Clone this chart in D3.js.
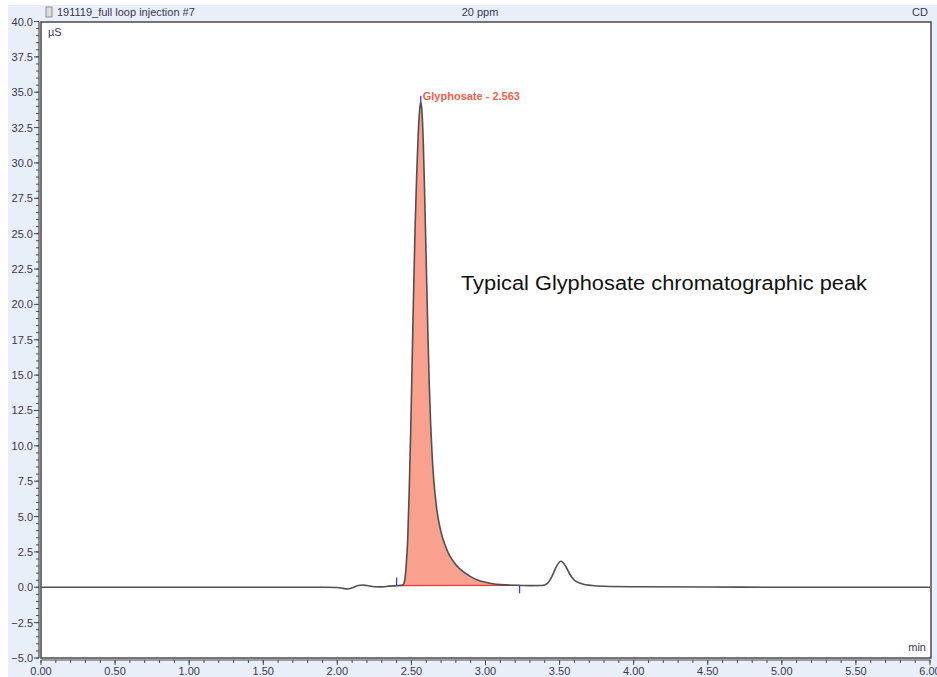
<!DOCTYPE html>
<html>
<head>
<meta charset="utf-8">
<script src="https://cdn.jsdelivr.net/npm/d3@7"></script>
<style>
  body { margin: 0; background: #fff; }
  text { font-family: "Liberation Sans", Arial, sans-serif; }
</style>
</head>
<body>
<div id="chart"></div>
<script>
// chromatogram trace (time in min, conductivity in µS)
const timeMin = [0.00, 0.50, 1.00, 1.50, 1.90, 2.00, 2.04, 2.07, 2.10, 2.14, 2.17, 2.20, 2.25, 2.30, 2.35, 2.40,
  2.44, 2.455, 2.465, 2.475, 2.485, 2.495, 2.505, 2.515, 2.525, 2.535, 2.545, 2.555, 2.563, 2.57, 2.58, 2.59,
  2.60, 2.61, 2.62, 2.63, 2.64, 2.65, 2.67, 2.70, 2.73, 2.76, 2.80, 2.85, 2.90, 2.95, 3.00, 3.05, 3.10, 3.20, 3.30,
  3.38, 3.42, 3.45, 3.48, 3.51, 3.54, 3.57, 3.60, 3.65, 3.72, 3.80, 4.00, 4.50, 5.00, 6.00];
const signalUS = [0.0, 0.0, 0.0, 0.0, 0.0, -0.02, -0.08, -0.12, -0.04, 0.12, 0.16, 0.12, 0.04, 0.03, 0.08, 0.12,
  0.15, 0.5, 1.6, 3.4, 6.8, 11, 16, 21, 25.5, 29, 31.8, 33.7, 34.3, 33.8, 31.5, 27.5,
  23, 18.5, 14.5, 11.5, 9.3, 7.7, 5.6, 3.9, 2.9, 2.2, 1.6, 1.1, 0.75, 0.5, 0.35, 0.25, 0.19, 0.14, 0.12,
  0.13, 0.3, 0.8, 1.5, 1.84, 1.5, 0.9, 0.5, 0.25, 0.12, 0.07, 0.04, 0.02, 0.0, 0.0];

// integrated peak
const peakName = "Glyphosate";
const peakTime = 2.563;
const peakStart = 2.40;
const peakEnd = 3.23;

// axes
const xTicks = [0, 0.5, 1, 1.5, 2, 2.5, 3, 3.5, 4, 4.5, 5, 5.5, 6];
const yTicks = [-5, -2.5, 0, 2.5, 5, 7.5, 10, 12.5, 15, 17.5, 20, 22.5, 25, 27.5, 30, 32.5, 35, 37.5, 40];

const width = 937;
const height = 677;

const svg = d3.select("#chart")
  .append("svg")
  .attr("width", width)
  .attr("height", height);

const x = d3.scaleLinear().domain([0, 6]).range([41, 930]);
const y = d3.scaleLinear().domain([-5, 40]).range([658, 21.5]);

// panel background
svg.append("rect")
  .attr("x", 8).attr("y", 5)
  .attr("width", width - 8).attr("height", height - 5)
  .attr("fill", "#e9eff9");

// plot area
svg.append("rect")
  .attr("x", 41).attr("y", 22)
  .attr("width", 890).attr("height", 636)
  .attr("fill", "#fff")
  .attr("stroke", "#4a4a4a")
  .attr("stroke-width", 1.5);

// header texts
const txtColor = "#3b3655";
svg.append("rect").attr("x", 46).attr("y", 7).attr("width", 6).attr("height", 10)
  .attr("fill", "#ddd").attr("stroke", "#777").attr("stroke-width", 0.8);
svg.append("text").attr("x", 57).attr("y", 16).attr("font-size", 11).attr("fill", txtColor)
  .text("191119_full loop injection #7");
svg.append("text").attr("x", 480).attr("y", 16).attr("font-size", 11).attr("fill", txtColor)
  .attr("text-anchor", "middle").text("20 ppm");
svg.append("text").attr("x", 928).attr("y", 16).attr("font-size", 11).attr("fill", txtColor)
  .attr("text-anchor", "end").text("CD");
svg.append("text").attr("x", 48).attr("y", 36).attr("font-size", 11).attr("fill", txtColor)
  .text("µS");
svg.append("text").attr("x", 926).attr("y", 651).attr("font-size", 11).attr("fill", txtColor)
  .attr("text-anchor", "end").text("min");

// y axis
const yMinor = d3.range(-5, 40.01, 0.5);
const yAxisG = svg.append("g").attr("transform", "translate(39,0)");
yAxisG.append("line").attr("y1", y(-5)).attr("y2", y(40)).attr("stroke", "#4a4a4a").attr("stroke-width", 1.2);
yAxisG.selectAll(".ymin").data(yMinor).join("line")
  .attr("x1", -3).attr("x2", 0)
  .attr("y1", d => y(d)).attr("y2", d => y(d))
  .attr("stroke", "#4a4a4a");
yAxisG.selectAll(".ymaj").data(yTicks).join("line")
  .attr("x1", -5).attr("x2", 0)
  .attr("y1", d => y(d)).attr("y2", d => y(d))
  .attr("stroke", "#4a4a4a");
yAxisG.selectAll("text").data(yTicks).join("text")
  .attr("x", -6).attr("y", d => y(d) + 4)
  .attr("text-anchor", "end").attr("font-size", 11).attr("fill", txtColor)
  .text(d3.format(".1f"));

// x axis
const xMinor = d3.range(0, 6.001, 0.1);
const xAxisG = svg.append("g").attr("transform", "translate(0,660)");
xAxisG.append("line").attr("x1", x(0)).attr("x2", x(6)).attr("stroke", "#4a4a4a").attr("stroke-width", 1.2);
xAxisG.selectAll(".xmin").data(xMinor).join("line")
  .attr("x1", d => x(d)).attr("x2", d => x(d))
  .attr("y1", 0).attr("y2", 3)
  .attr("stroke", "#4a4a4a");
xAxisG.selectAll(".xmaj").data(xTicks).join("line")
  .attr("x1", d => x(d)).attr("x2", d => x(d))
  .attr("y1", 0).attr("y2", 5)
  .attr("stroke", "#4a4a4a");
xAxisG.selectAll("text").data(xTicks).join("text")
  .attr("x", d => x(d)).attr("y", 15)
  .attr("text-anchor", "middle").attr("font-size", 11).attr("fill", txtColor)
  .text(d3.format(".2f"));

// trace points
const trace = timeMin.map((t, i) => ({ t: t, v: signalUS[i] }));
const interp = t => {
  const i = d3.bisector(d => d.t).right(trace, t);
  const a = trace[i - 1], b = trace[i];
  return a.v + (b.v - a.v) * (t - a.t) / (b.t - a.t);
};

// peak area between trace and the integration baseline
const baseA = interp(peakStart), baseB = interp(peakEnd);
const baseAt = t => baseA + (baseB - baseA) * (t - peakStart) / (peakEnd - peakStart);
const peakPts = [{ t: peakStart, v: baseA }]
  .concat(trace.filter(d => d.t > peakStart && d.t < peakEnd))
  .concat([{ t: peakEnd, v: baseB }]);

svg.append("path")
  .datum(peakPts)
  .attr("fill", "#f9a08e")
  .attr("d", d3.area()
    .x(d => x(d.t))
    .y0(d => y(baseAt(d.t)))
    .y1(d => y(Math.max(d.v, baseAt(d.t))))
    .curve(d3.curveMonotoneX));

svg.append("line")
  .attr("x1", x(peakStart)).attr("x2", x(peakEnd))
  .attr("y1", y(baseA)).attr("y2", y(baseB))
  .attr("stroke", "#f03a3a").attr("stroke-width", 1.2);

// trace line
svg.append("path")
  .datum(trace)
  .attr("fill", "none")
  .attr("stroke", "#505050")
  .attr("stroke-width", 1.6)
  .attr("d", d3.line().x(d => x(d.t)).y(d => y(d.v)).curve(d3.curveMonotoneX));

// peak markers
svg.append("line")
  .attr("x1", x(peakStart)).attr("x2", x(peakStart))
  .attr("y1", y(baseA) - 8).attr("y2", y(baseA))
  .attr("stroke", "#3a3aee").attr("stroke-width", 1.3);
svg.append("line")
  .attr("x1", x(peakEnd)).attr("x2", x(peakEnd))
  .attr("y1", y(baseB)).attr("y2", y(baseB) + 8)
  .attr("stroke", "#3a3aee").attr("stroke-width", 1.3);
svg.append("line")
  .attr("x1", x(peakTime)).attr("x2", x(peakTime))
  .attr("y1", y(interp(peakTime)) - 6).attr("y2", y(interp(peakTime)))
  .attr("stroke", "#3a3aee").attr("stroke-width", 1.3);

svg.append("text")
  .attr("x", x(peakTime) + 2).attr("y", y(interp(peakTime)) - 2)
  .attr("font-size", 11).attr("font-weight", "bold").attr("fill", "#f2604c")
  .text(peakName + " - " + peakTime.toFixed(3));

// annotation
svg.append("text")
  .attr("x", 461).attr("y", 290)
  .attr("font-family", "Lato, 'Open Sans', sans-serif")
  .attr("font-size", 20).attr("fill", "#111")
  .attr("textLength", 406).attr("lengthAdjust", "spacingAndGlyphs")
  .text("Typical Glyphosate chromatographic peak");
</script>
</body>
</html>
